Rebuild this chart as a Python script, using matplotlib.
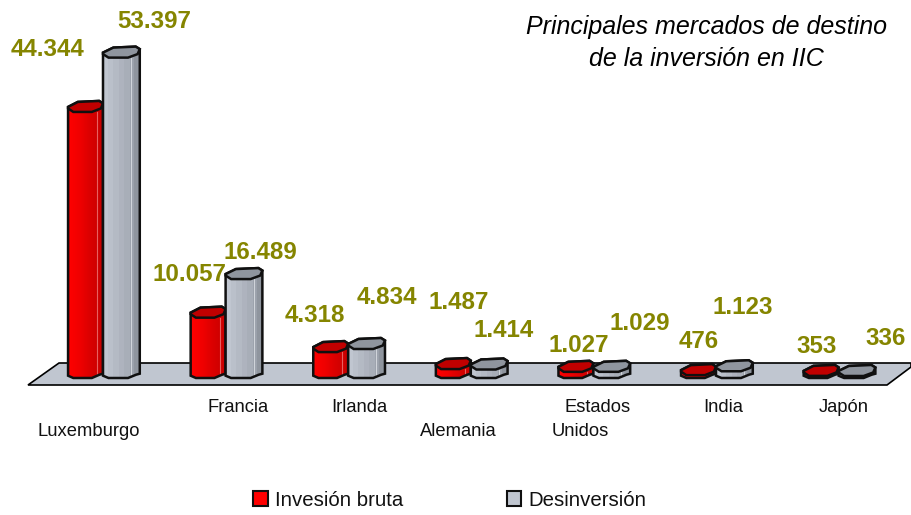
import numpy as np
import matplotlib
matplotlib.use("Agg")
import matplotlib.pyplot as plt
from matplotlib.colors import LinearSegmentedColormap
from matplotlib.patches import Patch, Polygon

plt.rcParams['font.family'] = ['Liberation Sans', 'DejaVu Sans']

countries = ["Luxemburgo", "Francia", "Irlanda", "Alemania", "Estados Unidos", "India", "Japón"]
inversion_bruta = [44344, 10057, 4318, 1487, 1027, 476, 353]
desinversion = [53397, 16489, 4834, 1414, 1029, 1123, 336]
labels_bruta = ["44.344", "10.057", "4.318", "1.487", "1.027", "476", "353"]
labels_desinv = ["53.397", "16.489", "4.834", "1.414", "1.029", "1.123", "336"]

W, H = 911, 515
BASE_PX = 378       # pixel row of value 0
PX_PER_UNIT = 0.006
X0_PX = 103         # pixel column of the first group
GROUP_PX = 122.6

fig = plt.figure(figsize=(W / 100, H / 100), dpi=100)
ax = fig.add_axes([0, 0, 1, 1])
ax.set_xlim(-X0_PX / GROUP_PX, (W - X0_PX) / GROUP_PX)
ax.set_ylim(-(H - BASE_PX) / PX_PER_UNIT, BASE_PX / PX_PER_UNIT)
ax.axis("off")

# floor of the 3d chart
floor = Polygon([(28 / W, 1 - 385 / H), (59 / W, 1 - 363 / H), (W / W, 1 - 363 / H),
                 (W / W, 1 - 367 / H), (887 / W, 1 - 385 / H)],
                closed=True, transform=ax.transAxes, facecolor="#c0c6d0",
                edgecolor="#000000", lw=1.2, zorder=1)
ax.add_patch(floor)

red_map = LinearSegmentedColormap.from_list("r", ["#ff0000", "#f00000", "#d80000", "#c80000"])
grey_map = LinearSegmentedColormap.from_list("g", ["#c0c6d0", "#b4bac4", "#a8aeb8", "#8f959e"], N=7)

# outline of the section, u = share of the bar width, d = pixels above the front edge
bottom_u = [0, 0.15, 0.68, 0.9, 1.0]
bottom_d = [2.3, 0, 0, 3.3, 4.3]
top_u = [0, 0.28, 0.89, 1.0, 0.94, 0.68, 0.15, 0]
top_d = [5, 10, 11, 8.5, 3.5, 0, 0, 3.5]


def draw_bar(x0, x1, value, cmap, top_color, shine_u, shine_color, z):
    px = 1 / PX_PER_UNIT
    lower = [(x0 + u * (x1 - x0), d * px) for u, d in zip(bottom_u, bottom_d)]
    top = [(x0 + u * (x1 - x0), value + d * px) for u, d in zip(top_u, top_d)]
    body = Polygon(top[:4] + lower[::-1], closed=True, facecolor="none",
                   edgecolor="#101010", lw=1.8, zorder=z + 0.2)
    ax.add_patch(body)
    grad = ax.imshow(np.linspace(0, 1, 64).reshape(1, -1), cmap=cmap, aspect="auto",
                     extent=(x0, x1, 0, value + 12 * px), zorder=z, interpolation="nearest")
    grad.set_clip_path(body)
    shine = ax.plot([x0 + shine_u * (x1 - x0)] * 2, [0, value], color=shine_color, lw=0.8, zorder=z + 0.1)[0]
    shine.set_clip_path(body)
    ax.add_patch(Polygon(top, closed=True, facecolor=top_color, edgecolor="#101010",
                         lw=1.8, zorder=z + 0.3))


for i in range(len(countries)):
    draw_bar(i - 0.285, i, inversion_bruta[i], red_map, "#c00000", 0.83, "#e86060", 2 + i)
    draw_bar(i, i + 0.3, desinversion[i], grey_map, "#8f959e", 0.76, "#d0d4da", 2.5 + i)

ax.set_xlim(-X0_PX / GROUP_PX, (W - X0_PX) / GROUP_PX)
ax.set_ylim(-(H - BASE_PX) / PX_PER_UNIT, BASE_PX / PX_PER_UNIT)

# value labels, offset in pixels from the top of each bar
off_bruta = [(-38, 62), (-19, 43), (-16, 37), (5, 67), (3, 26), (0, 34), (-5, 29)]
off_desinv = [(33, 36), (16, 27), (20, 51), (14, 39), (28, 48), (8, 64), (29, 37)]
for i in range(len(countries)):
    ax.annotate(labels_bruta[i], (i - 0.14, inversion_bruta[i]), xytext=off_bruta[i],
                textcoords="offset pixels", ha="center", va="center", fontsize=17.4,
                fontweight="bold", color="#858500", zorder=30)
    ax.annotate(labels_desinv[i], (i + 0.15, desinversion[i]), xytext=off_desinv[i],
                textcoords="offset pixels", ha="center", va="center", fontsize=17.4,
                fontweight="bold", color="#858500", zorder=30)

# category labels, staggered as in the original
off_cat = [[(-14, -54)], [(12, -29)], [(11, -29)], [(-13, -54)],
           [(4, -29), (-13, -54)], [(7, -29)], [(5, -29)]]
for i, name in enumerate(countries):
    for word, off in zip(name.split(" "), off_cat[i]):
        ax.annotate(word, (i, 0), xytext=off, textcoords="offset pixels",
                    ha="center", va="center", fontsize=13.2, color="#111111")

fig.text(706 / W, 1 - 43 / H, "Principales mercados de destino\nde la inversión en IIC",
         ha="center", va="center", fontsize=18, style="italic", color="#000000", linespacing=1.42)

handles = [Patch(facecolor="#ff0000", edgecolor="#101010", lw=1.5, label="Invesión bruta"),
           Patch(facecolor="#c0c6d0", edgecolor="#101010", lw=1.5, label="Desinversión")]
ax.legend(handles=handles, ncol=2, frameon=False, fontsize=14.7, loc="center",
          bbox_to_anchor=(450 / W, 1 - 500 / H), handlelength=0.7, handleheight=0.7,
          handletextpad=0.35, columnspacing=5.1, labelcolor="#111111")

fig.savefig("out.png", dpi=100)
